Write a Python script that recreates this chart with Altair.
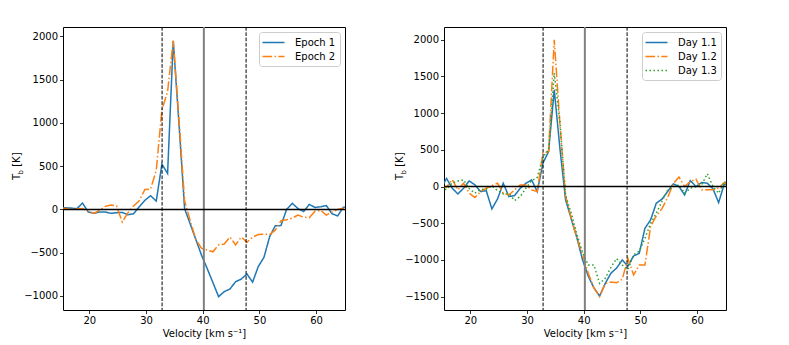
import altair as alt
import pandas as pd

# ---------------- data ----------------
velocity = [14.8, 15.8, 16.8, 17.8, 18.8, 19.8, 20.8, 21.8, 22.8, 23.8,
            24.8, 25.8, 26.8, 27.8, 28.8, 29.8, 30.8, 31.8, 32.8, 33.8,
            34.8, 35.8, 36.8, 37.8, 38.8, 39.8, 40.8, 41.8, 42.8, 43.8,
            44.8, 45.8, 46.8, 47.8, 48.8, 49.8, 50.8, 51.8, 52.8, 53.8,
            54.8, 55.8, 56.8, 57.8, 58.8, 59.8, 60.8, 61.8, 62.8, 63.8,
            64.8, 65.8]

epoch1 = [15, 19, 15, 8, 73, -30, -45, -30, -30, -45,
          -38, -35, -62, -50, 30, 105, 158, 96, 523, 415,
          1946, 1000, 10, -170, -350, -531, -685, -846, -1008, -950,
          -920, -835, -805, -746, -840, -660, -554, -316, -189, -187,
          0, 70, 10, -25, 58, 23, 30, 45, -50, -75,
          25, 30]
epoch2 = [10, 10, 5, 5, 10, -20, -46, -10, 35, 50,
          40, -145, -40, 40, 100, 230, 235, 450, 1150, 1360,
          1950, 1050, 100, -130, -350, -450, -470, -490, -410, -400,
          -320, -410, -320, -380, -320, -290, -285, -290, -240, -130,
          -120, -100, -66, -90, -95, -20, -10, -66, -30, 0,
          12, 20]

day11 = [-30, 110, -23, -100, -23, 77, 23, -68, -55, -305,
         -168, 45, -136, -123, -23, 45, 91, -68, 318, 477,
         1318, 520, -181, -440, -700, -1000, -1220, -1380, -1491, -1318,
         -1180, -1110, -1000, -1082, -945, -909, -568, -454, -227, -172,
         -68, 37, 0, -113, 82, 0, 55, 45, -30, -218,
         37, 0]
day12 = [10, -10, 95, -45, 45, -91, -150, -68, -23, 14,
         45, -91, -114, -45, 23, 23, -45, -68, 455, 477,
         2000, 850, -130, -430, -700, -930, -1180, -1380, -1500, -1320,
         -1300, -1310, -1260, -980, -1205, -1068, -1068, -545, -400, -300,
         -150, 40, 130, 0, 70, 100, -45, -45, -45, -20,
         55, 0]
day13 = [-30, -40, 50, 75, 91, -30, -90, -40, -35, 10,
         -55, -100, -91, -190, -136, -23, 80, 125, 400, 500,
         1545, 880, -120, -363, -650, -900, -1068, -1068, -1320, -1250,
         -1100, -980, -1068, -1130, -930, -880, -705, -500, -363, -200,
         -50, 0, 23, -90, -23, 0, 23, 175, 0, -91,
         68, 0]

left_names = ["Epoch 1", "Epoch 2"]
right_names = ["Day 1.1", "Day 1.2", "Day 1.3"]
tab_colors = ["#1f77b4", "#ff7f0e", "#2ca02c"]
dash_styles = [[1, 0], [9.6, 2.4, 1.5, 2.4], [1.5, 2.5]]

x_domain = [15.35, 65.1]
x_ticks = [20, 30, 40, 50, 60]
left_y_domain = [-1162, 2107]
left_y_ticks = [-1000, -500, 0, 500, 1000, 1500, 2000]
right_y_domain = [-1681, 2173]
right_y_ticks = [-1500, -1000, -500, 0, 500, 1000, 1500, 2000]
vsys_line = [40.2]
window_lines = [32.83, 47.65]
zero_level = [0]

FONT = "DejaVu Sans"
W, H = 282, 283


def long_df(names, series):
    rows = []
    for name, vals in zip(names, series):
        for v, t in zip(velocity, vals):
            rows.append({"velocity": v, "tb": t, "series": name})
    return pd.DataFrame(rows)


def panel(names, series, y_domain, y_ticks, title_x):
    n = len(names)
    df = long_df(names, series)
    legend = alt.Legend(
        title=None, orient="top-right", offset=5, padding=4,
        fillColor="white", strokeColor="#cccccc", cornerRadius=3,
        labelFont=FONT, labelFontSize=10, labelColor="black",
        symbolType="M-2,0H2", symbolSize=121, symbolStrokeWidth=1.5,
        symbolOffset=4, labelOffset=15, rowPadding=2,
    )
    x = alt.X("velocity:Q",
              scale=alt.Scale(domain=x_domain, nice=False, zero=False),
              axis=alt.Axis(values=x_ticks, title="Velocity [km s⁻¹]"))
    y = alt.Y("tb:Q",
              scale=alt.Scale(domain=y_domain, nice=False, zero=False),
              axis=alt.Axis(values=y_ticks, title=None, format="d"))

    lines = alt.Chart(df).mark_line(clip=True, strokeWidth=1.5).encode(
        x=x, y=y,
        color=alt.Color("series:N",
                        scale=alt.Scale(domain=names, range=tab_colors[:n]),
                        legend=legend),
        strokeDash=alt.StrokeDash("series:N",
                                  scale=alt.Scale(domain=names, range=dash_styles[:n]),
                                  legend=legend),
    )
    zero = alt.Chart(pd.DataFrame({"tb": zero_level})).mark_rule(
        color="black", strokeWidth=1.5).encode(y=y)
    vsys = alt.Chart(pd.DataFrame({"velocity": vsys_line})).mark_rule(
        color="#808080", strokeWidth=2).encode(x=x)
    win = alt.Chart(pd.DataFrame({"velocity": window_lines})).mark_rule(
        color="black", strokeWidth=1, strokeDash=[3.7, 1.6]).encode(x=x)

    one = pd.DataFrame({"a": [0]})
    t_main = alt.Chart(one).mark_text(
        text="T", angle=270, align="left", baseline="alphabetic",
        font=FONT, fontSize=10, color="black").encode(
        x=alt.value(title_x), y=alt.value(153))
    t_sub = alt.Chart(one).mark_text(
        text="b", angle=270, align="left", baseline="alphabetic",
        font=FONT, fontSize=7, color="black").encode(
        x=alt.value(title_x + 2.5), y=alt.value(153 - 5.6))
    t_unit = alt.Chart(one).mark_text(
        text="[K]", angle=270, align="left", baseline="alphabetic",
        font=FONT, fontSize=10, color="black").encode(
        x=alt.value(title_x), y=alt.value(153 - 5.6 - 4.4 - 3.2))

    return alt.layer(lines, vsys, win, zero, t_main, t_sub, t_unit).properties(
        width=W, height=H)


left = panel(left_names, [epoch1, epoch2], left_y_domain, left_y_ticks, -43)
right = panel(right_names, [day11, day12, day13], right_y_domain, right_y_ticks, -41)

chart = alt.hconcat(left, right, spacing=47).resolve_scale(
    x="independent", y="independent", color="independent", strokeDash="independent"
).resolve_legend(color="independent", strokeDash="independent").properties(
    padding={"left": 3, "top": 17, "right": 0, "bottom": 0}
).configure_view(
    stroke="black", strokeWidth=1
).configure_axis(
    labelFont=FONT, labelFontSize=10, labelColor="black",
    titleFont=FONT, titleFontSize=10, titleColor="black", titleFontWeight="normal",
    tickColor="black", tickSize=3.5, tickWidth=0.8, domain=False,
    grid=False, labelPadding=2, titlePadding=3,
)

chart.save("out.html", embed_options={"renderer": "svg", "actions": False})
